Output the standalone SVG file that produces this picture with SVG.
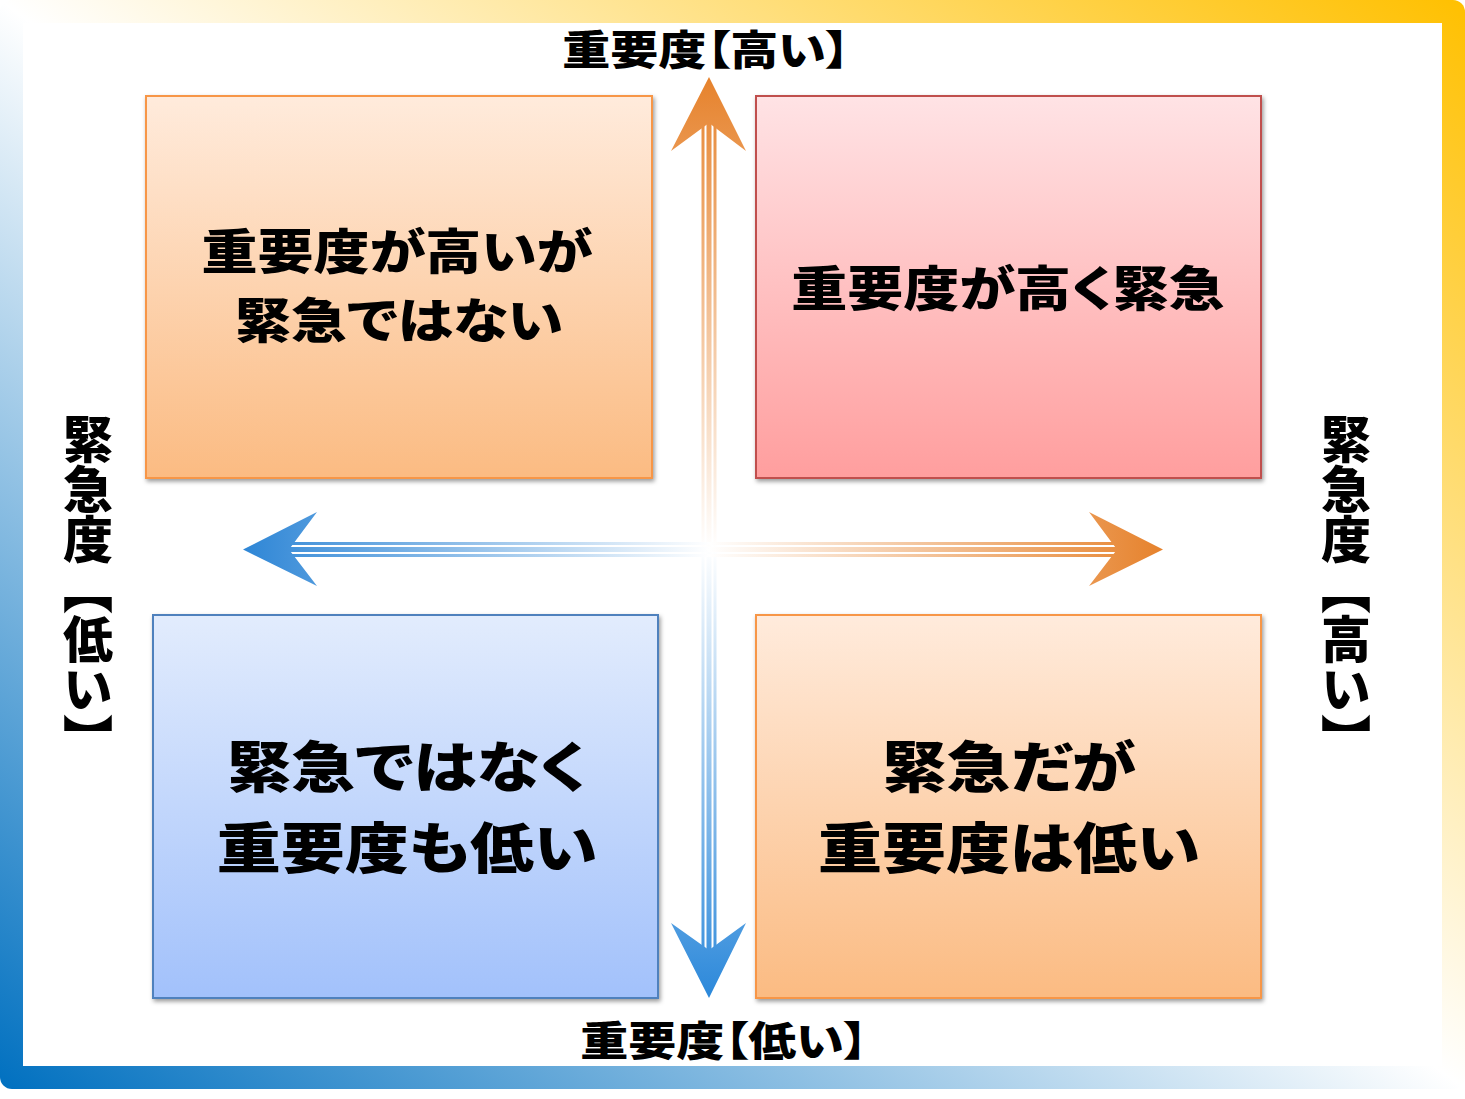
<svg xmlns="http://www.w3.org/2000/svg" width="1465" height="1099" viewBox="0 0 1465 1099">
<style>
.t{font-family:"Liberation Sans","Noto Sans CJK JP",sans-serif;font-weight:900;fill:#000;text-anchor:middle;font-feature-settings:"palt";}
.v{font-family:"Noto Sans CJK JP",sans-serif;font-weight:900;fill:#000;writing-mode:vertical-rl;font-size:50px;}
.box{stroke-width:2;filter:url(#sh);}
</style>
<defs>
<linearGradient id="gFrame" x1="0" y1="1" x2="1" y2="0">
<stop offset="0" stop-color="#0070C0"/>
<stop offset="0.5" stop-color="#FFFFFF"/>
<stop offset="1" stop-color="#FFC000"/>
</linearGradient>
<linearGradient id="gOr" x1="0" y1="0" x2="0" y2="1">
<stop offset="0" stop-color="#FFEBDC"/>
<stop offset="1" stop-color="#FBBB82"/>
</linearGradient>
<linearGradient id="gRed" x1="0" y1="0" x2="0" y2="1">
<stop offset="0" stop-color="#FFE3E5"/>
<stop offset="1" stop-color="#FF9E9E"/>
</linearGradient>
<linearGradient id="gBlue" x1="0" y1="0" x2="0" y2="1">
<stop offset="0" stop-color="#E2ECFD"/>
<stop offset="1" stop-color="#A2C1FB"/>
</linearGradient>
<linearGradient id="gUp" gradientUnits="userSpaceOnUse" x1="0" y1="549" x2="0" y2="77">
<stop offset="0" stop-color="#FFFFFF"/>
<stop offset="1" stop-color="#E6822C"/>
</linearGradient>
<linearGradient id="gDown" gradientUnits="userSpaceOnUse" x1="0" y1="549" x2="0" y2="998">
<stop offset="0" stop-color="#FFFFFF"/>
<stop offset="1" stop-color="#2B88DA"/>
</linearGradient>
<linearGradient id="gRight" gradientUnits="userSpaceOnUse" x1="709" y1="0" x2="1163" y2="0">
<stop offset="0" stop-color="#FFFFFF"/>
<stop offset="1" stop-color="#E6822C"/>
</linearGradient>
<linearGradient id="gLeft" gradientUnits="userSpaceOnUse" x1="709" y1="0" x2="243" y2="0">
<stop offset="0" stop-color="#FFFFFF"/>
<stop offset="1" stop-color="#2E86D6"/>
</linearGradient>
<filter id="sh" x="-5%" y="-5%" width="112%" height="112%">
<feDropShadow dx="1.5" dy="2.5" stdDeviation="2" flood-color="#000" flood-opacity="0.4"/>
</filter>
</defs>

<g id="frame">
<rect x="0" y="0" width="1465" height="1089" rx="12" fill="url(#gFrame)"/>
<rect x="23" y="23" width="1419" height="1043" fill="#FFFFFF"/>
</g>

<g id="connectors">
<g id="arrow-up" fill="url(#gUp)">
<rect x="701.5" y="123" width="3" height="426"/>
<rect x="706.5" y="123" width="5" height="426"/>
<rect x="713.5" y="123" width="3" height="426"/>
<polygon points="709,77 746,151 709,123 671,151"/>
</g>
<g id="arrow-down" fill="url(#gDown)">
<rect x="701.5" y="549" width="3" height="402"/>
<rect x="706.5" y="549" width="5" height="402"/>
<rect x="713.5" y="549" width="3" height="402"/>
<polygon points="709,998 746,923 709,950 671,923"/>
</g>
<g id="arrow-right" fill="url(#gRight)">
<rect x="709" y="542" width="409" height="3"/>
<rect x="709" y="547" width="409" height="5"/>
<rect x="709" y="554" width="409" height="3"/>
<polygon points="1163,549.5 1089,586 1117,549.5 1089,512"/>
</g>
<g id="arrow-left" fill="url(#gLeft)">
<rect x="288" y="542" width="421" height="3"/>
<rect x="288" y="547" width="421" height="5"/>
<rect x="288" y="554" width="421" height="3"/>
<polygon points="243,549.5 317,586 289,549.5 317,512"/>
</g>
</g>

<g id="q-important-not-urgent">
<rect class="box" x="146" y="96" width="506" height="382" fill="url(#gOr)" stroke="#F79646"/>
<text class="t" font-size="56" transform="translate(397,269) scale(1,0.85)">重要度が高いが</text>
<text class="t" font-size="56" transform="translate(399,338) scale(1,0.85)">緊急ではない</text>
</g>

<g id="q-important-urgent">
<rect class="box" x="756" y="96" width="505" height="382" fill="url(#gRed)" stroke="#C0504D"/>
<text class="t" font-size="56" transform="translate(1008,306) scale(1,0.85)">重要度が高く緊急</text>
</g>

<g id="q-not-urgent-not-important">
<rect class="box" x="153" y="615" width="505" height="383" fill="url(#gBlue)" stroke="#4F81BD"/>
<text class="t" font-size="64" transform="translate(407,787) scale(1,0.85)">緊急ではなく</text>
<text class="t" font-size="64" transform="translate(407,868) scale(1,0.85)">重要度も低い</text>
</g>

<g id="q-urgent-not-important">
<rect class="box" x="756" y="615" width="505" height="383" fill="url(#gOr)" stroke="#F79646"/>
<text class="t" font-size="64" transform="translate(1009,787) scale(1,0.85)">緊急だが</text>
<text class="t" font-size="64" transform="translate(1009,868) scale(1,0.85)">重要度は低い</text>
</g>

<g id="label-top">
<text class="t" font-size="48" transform="translate(706,65) scale(1,0.85)">重要度【高い】</text>
</g>
<g id="label-bottom">
<text class="t" font-size="48" transform="translate(724,1056) scale(1,0.85)">重要度【低い】</text>
</g>
<g id="label-left">
<text class="v" x="88" y="414">緊急度【低い】</text>
</g>
<g id="label-right">
<text class="v" x="1346" y="414">緊急度【高い】</text>
</g>
</svg>
